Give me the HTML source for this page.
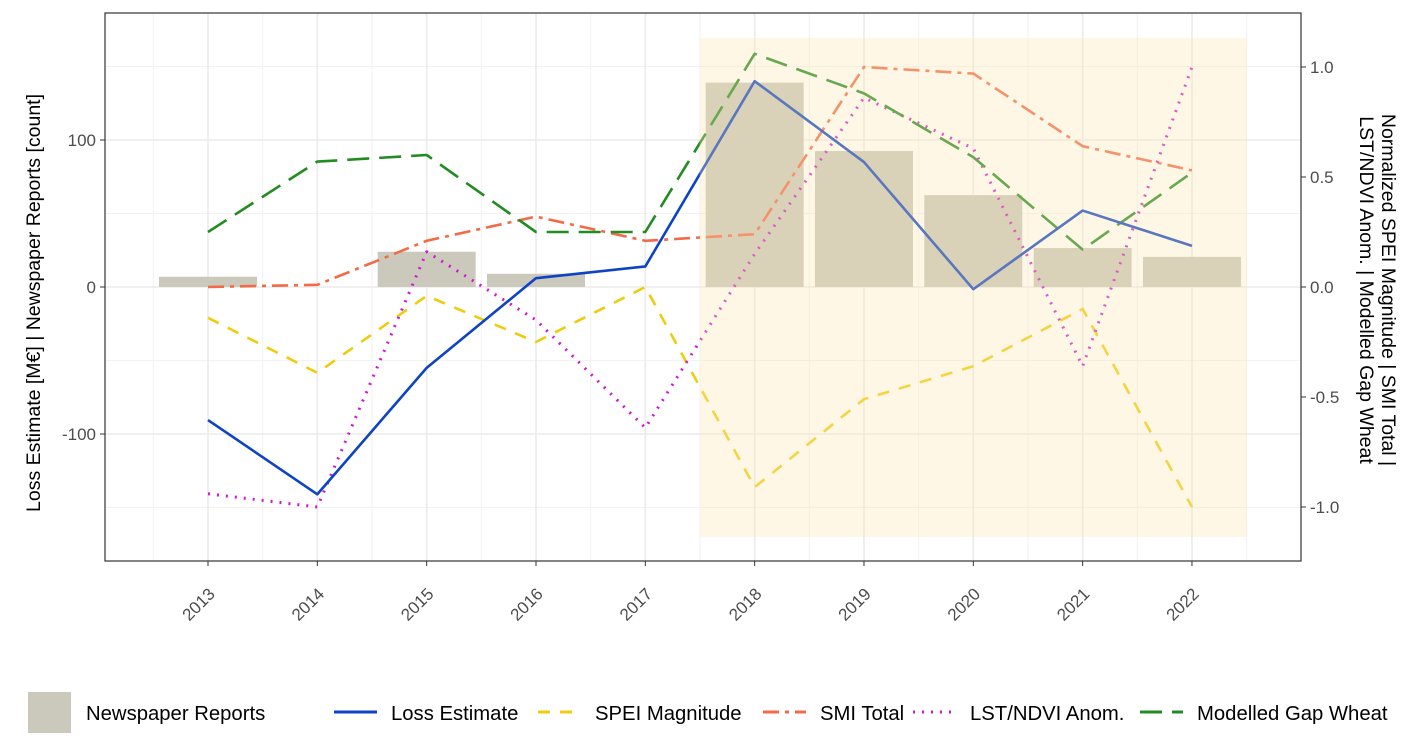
<!DOCTYPE html>
<html><head><meta charset="utf-8"><style>
body{margin:0;background:#fff;font-family:"Liberation Sans",Arial,sans-serif;}
svg text{font-family:"Liberation Sans",Arial,sans-serif;}
</style></head><body>
<svg id="chart" width="1416" height="744" xmlns="http://www.w3.org/2000/svg"></svg>
<script>
const years=[2013,2014,2015,2016,2017,2018,2019,2020,2021,2022];
const reports=[7,0,24,9,0,139,92.5,62.5,26.5,20.5];
const loss=[-90.5,-141,-55,6,14,140,85,-1.5,52,28];
const spei=[-0.14,-0.39,-0.04,-0.25,0,-0.91,-0.51,-0.36,-0.1,-1.0];
const smi=[0,0.01,0.21,0.32,0.21,0.24,1.0,0.97,0.64,0.53];
const lst=[-0.94,-1.0,0.16,-0.15,-0.64,0.15,0.86,0.63,-0.36,1.0];
const gap=[0.25,0.57,0.6,0.25,0.25,1.06,0.88,0.59,0.17,0.52];
const leftTicks=[-100,0,100];
const rightTicks=[-1.0,-0.5,0.0,0.5,1.0];
const rightLabels=["-1.0","-0.5","0.0","0.5","1.0"];
const highlightYears=[2018,2022];

const NS="http://www.w3.org/2000/svg";
const svg=document.getElementById('chart');
const P={l:105,r:1301,t:13,b:561};
const x=y=>208+(y-2013)*109.33;
const yl=v=>287-v*1.47;
const yr=v=>287-v*220;
function el(tag,a,parent){const e=document.createElementNS(NS,tag);for(const k in a)e.setAttribute(k,a[k]);(parent||svg).appendChild(e);return e;}

let e=el('rect',{x:P.l,y:P.t,width:P.r-P.l,height:P.b-P.t,fill:'#fff'});

for(let i=0;i<years.length+1;i++){const xv=x(2012.5+i);el('line',{x1:xv,x2:xv,y1:P.t,y2:P.b,stroke:'#f2f2f2','stroke-width':1});}
for(const v of [-150,-50,50,150]){el('line',{x1:P.l,x2:P.r,y1:yl(v),y2:yl(v),stroke:'#f2f2f2','stroke-width':1});}
years.forEach(yv=>el('line',{x1:x(yv),x2:x(yv),y1:P.t,y2:P.b,stroke:'#ebebeb','stroke-width':1.6}));
leftTicks.forEach(v=>el('line',{x1:P.l,x2:P.r,y1:yl(v),y2:yl(v),stroke:'#ebebeb','stroke-width':1.6}));

const bw=98;
years.forEach((yv,i)=>{if(reports[i]<=0)return;const b=el('rect',{x:x(yv)-bw/2,y:yl(reports[i]),width:bw,height:yl(0)-yl(reports[i]),fill:'#cbc9bb'});
});

function line(vals,scale,color,dash,name,w){const pts=vals.map((v,i)=>x(years[i])+','+scale(v)).join(' ');
const l=el('polyline',{points:pts,fill:'none',stroke:color,'stroke-width':w||2.6,'stroke-dasharray':dash,'stroke-linejoin':'round'});
}
line(smi,yr,'#f26a48','16 6 4 6','line-smi-total');
line(spei,yr,'#f0cc10','12 10','line-spei-magnitude');
line(lst,yr,'#d118d1','2 7','line-lst-ndvi',3);
line(gap,yr,'#228b22','22 10','line-modelled-gap');
line(loss,yl,'#0d43c4','','line-loss-estimate');

const hl=el('rect',{x:x(highlightYears[0])-55,y:38,width:x(highlightYears[1])-x(highlightYears[0])+110,height:499,fill:'#fbe6b0','fill-opacity':0.32});


el('rect',{x:P.l,y:P.t,width:P.r-P.l,height:P.b-P.t,fill:'none',stroke:'#333','stroke-width':1.2});

leftTicks.forEach(v=>{el('line',{x1:P.l-5,x2:P.l,y1:yl(v),y2:yl(v),stroke:'#333'});
const t=el('text',{x:P.l-9,y:yl(v)+6,'text-anchor':'end','font-size':17,fill:'#4d4d4d'});t.textContent=v;
});
rightTicks.forEach((v,i)=>{el('line',{x1:P.r,x2:P.r+5,y1:yr(v),y2:yr(v),stroke:'#333'});
const t=el('text',{x:P.r+9,y:yr(v)+6,'font-size':17,fill:'#4d4d4d'});t.textContent=rightLabels[i];
});
years.forEach(yv=>{el('line',{x1:x(yv),x2:x(yv),y1:P.b,y2:P.b+5,stroke:'#333'});
const tx=x(yv)+8, ty=P.b+34;
const t=el('text',{x:tx,y:ty,'text-anchor':'end','font-size':17,fill:'#4d4d4d',transform:`rotate(-45 ${tx} ${ty})`});t.textContent=yv;
});

let t=el('text',{x:40,y:303,'text-anchor':'middle','font-size':19.5,fill:'#000',transform:'rotate(-90 40 303)'});t.textContent='Loss Estimate [M€] | Newspaper Reports [count]';

t=el('text',{x:1382,y:290,'text-anchor':'middle','font-size':19.5,fill:'#000',transform:'rotate(90 1382 290)'});t.textContent='Normalized SPEI Magnitude | SMI Total |';

t=el('text',{x:1360,y:290,'text-anchor':'middle','font-size':19.5,fill:'#000',transform:'rotate(90 1360 290)'});t.textContent='LST/NDVI Anom. | Modelled Gap Wheat';


const lg=el('g',{});
el('rect',{x:28,y:692,width:43,height:41,fill:'#cbc9bb'},lg);
t=el('text',{x:86,y:720,'font-size':20.3,fill:'#000'},lg);t.textContent='Newspaper Reports';
const items=[['Loss Estimate','#0d43c4','',334],['SPEI Magnitude','#f0cc10','12 10',538],['SMI Total','#f26a48','16 6 4 6',763],['LST/NDVI Anom.','#d118d1','2 7',913],['Modelled Gap Wheat','#228b22','22 10',1140]];
items.forEach(it=>{el('line',{x1:it[3],x2:it[3]+43,y1:712,y2:712,stroke:it[1],'stroke-width':3,'stroke-dasharray':it[2]},lg);
const tt=el('text',{x:it[3]+57,y:720,'font-size':20.3,fill:'#000'},lg);tt.textContent=it[0];
});
</script>
</body></html>
